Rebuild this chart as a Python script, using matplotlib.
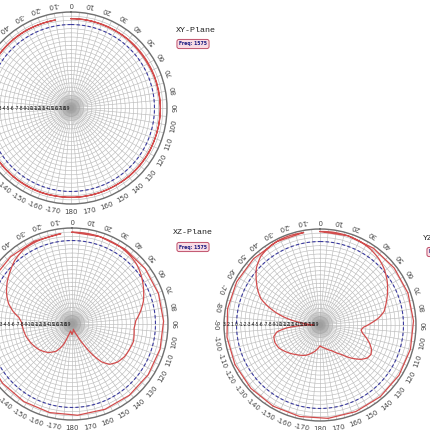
import numpy as np
import matplotlib
matplotlib.use('Agg')
import matplotlib.pyplot as plt

# radial scale in dB
r_min, r_max = -20, 3
ring_levels = list(range(-20, 4))
spoke_angles = list(range(0, 360, 5))
label_angles = list(range(0, 360, 10))
angle_labels = [str(a) if a <= 180 else str(a - 360) for a in label_angles]

# XY-Plane (nearly omni)
xy_theta = list(range(0, 360, 10))
xy_gain = [1.4, 1.4, 1.3, 1.3, 1.3, 1.2, 1.2, 1.3, 1.3, 1.4, 1.4, 1.4,
           1.5, 1.5, 1.5, 1.4, 1.4, 1.4, 1.4, 1.4, 1.5, 1.5, 1.5, 1.5,
           1.4, 1.4, 1.3, 1.3, 1.3, 1.4, 1.4, 1.5, 1.5, 1.5, 1.4, 1.4]

# XZ-Plane
xz_theta = [0, 10, 23, 32, 40, 47, 52, 57, 63, 72, 80, 87, 94, 100, 106, 112,
            122, 130, 137, 142, 146, 150, 156, 165, 175, 180, 185, 192, 198,
            203, 210, 220, 232, 243, 255, 265, 272, 277, 282, 288, 295, 303,
            310, 318, 327, 336, 345, 353]
xz_gain = [2.0, 2.0, 1.9, 1.8, 1.5, 1.1, 0.6, 0.0, -0.8, -2.0, -3.4, -4.7,
           -5.1, -4.9, -4.7, -4.9, -5.2, -5.8, -6.8, -8.5, -11.0, -14.0, -17.0,
           -18.7, -18.0, -17.5, -18.0, -18.3, -17.0, -14.5, -12.5, -11.1, -10.0,
           -9.3, -8.6, -8.2, -7.9, -7.2, -5.6, -4.0, -2.7, -1.5, -0.6, 0.5,
           1.3, 1.5, 1.6, 1.8]

# YZ-Plane
yz_theta = [0, 8, 17, 26, 34, 42, 49, 57, 64, 71, 78, 83, 88, 93, 97, 101,
            105, 110, 115, 120, 125, 130, 137, 144, 155, 168, 180, 191, 205,
            220, 232, 241, 249, 256, 261, 265, 268, 271, 275, 279, 283, 286,
            290, 294, 300, 306, 312, 319, 328, 335, 341, 350]
yz_gain = [2.4, 2.45, 2.4, 2.2, 1.8, 1.2, 0.4, -0.8, -2.0, -3.2, -4.3, -5.8,
           -7.8, -9.6, -10.1, -9.6, -8.6, -7.4, -6.4, -5.9, -6.2, -7.2, -9.2,
           -11.3, -13.2, -14.3, -15.0, -13.6, -12.0, -10.8, -9.6, -8.7, -8.4,
           -8.6, -9.6, -12.0, -14.9, -18.5, -16.5, -13.6, -10.8, -8.9, -6.6,
           -4.5, -2.7, -1.1, 0.5, 1.7, 2.4, 2.6, 2.6, 2.5]

W = 430.0
narrow = ['Liberation Sans Narrow', 'DejaVu Sans']


def panel(fig, cx, cy, theta, gain, rad=96):
    rect = [(cx - rad) / W, (W - cy - rad) / W, 2 * rad / W, 2 * rad / W]
    ax = fig.add_axes(rect, projection='polar')
    ax.set_theta_zero_location('N')
    ax.set_theta_direction(-1)
    ax.set_ylim(r_min, r_max)
    ax.set_yticks(ring_levels)
    ax.set_xticks(np.deg2rad(spoke_angles))
    ax.set_xticklabels([])
    ax.set_yticklabels([])
    ax.grid(True, color='#bcbcbc', lw=0.45)
    ax.spines['polar'].set_color('#707070')
    ax.spines['polar'].set_linewidth(1.0)

    # grey blob in the middle
    ax.scatter([0] * 4, [r_min] * 4, s=[330, 170, 70, 20], color='#808080',
               alpha=0.15, lw=0, zorder=3)

    # 0 dB reference
    circ = np.linspace(0, 2 * np.pi, 360)
    ax.plot(circ, np.zeros_like(circ), color='#3a3aa0', lw=0.8,
            ls=(0, (3, 2)), zorder=4)

    t = np.deg2rad(theta + theta[:1])
    g = gain + gain[:1]
    line, = ax.plot(t, g, color='#d24c4c', lw=0.9, zorder=5)
    line.get_path()._interpolation_steps = 20

    for a, lab in zip(label_angles, angle_labels):
        ax.text(np.deg2rad(a), 5.0, lab, rotation=180 - a, ha='center',
                va='center', fontsize=5, color='#444444', family=narrow)

    for v in ring_levels[::-1][:-1]:
        ax.text(np.deg2rad(270), v, str(v), ha='center', va='center',
                fontsize=3.3, color='#111111', zorder=6, family=narrow)
    return ax


def heading(fig, x, y, title, bx, by):
    fig.text(x / W, 1 - y / W, title, ha='left', va='center', fontsize=6,
             family=['Liberation Mono', 'DejaVu Sans Mono'], color='#222222')
    fig.text(bx / W, 1 - by / W, 'Freq: 1575', ha='left', va='center',
             fontsize=3.3, weight='bold', color='#1a1a80',
             bbox=dict(boxstyle='round,pad=0.45', fc='#f9dce4', ec='#c0506a',
                       lw=0.7))


fig = plt.figure(figsize=(4.3, 4.3), dpi=100)
fig.patch.set_facecolor('white')

panel(fig, 71, 108, xy_theta, xy_gain)
panel(fig, 72, 324, xz_theta, xz_gain)
panel(fig, 320, 325, yz_theta, yz_gain)

heading(fig, 176, 30, 'XY-Plane', 179, 44)
heading(fig, 173, 232, 'XZ-Plane', 179, 247)
heading(fig, 423, 238, 'YZ-Plane', 429, 252)

fig.savefig('out.png', dpi=100, facecolor='white')
